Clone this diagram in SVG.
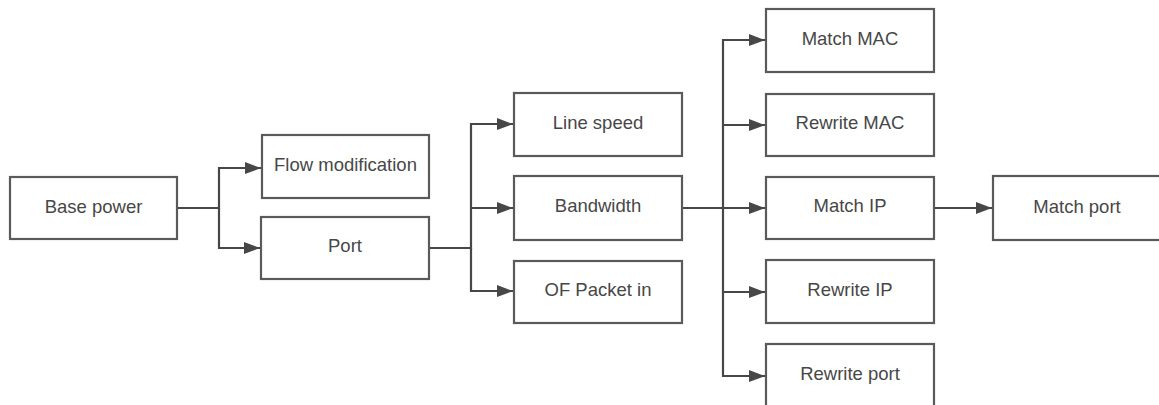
<svg xmlns="http://www.w3.org/2000/svg" width="1159" height="405" viewBox="0 0 1159 405">
<style>
.box{fill:#ffffff;stroke:#5a5a5a;stroke-width:2.2}
.lbl{font-family:"Liberation Sans",Arial,sans-serif;font-size:18.5px;fill:#474747;text-anchor:middle}
.edge{fill:none;stroke:#474747;stroke-width:2.2}
</style>
<defs>
<marker id="arr" markerUnits="userSpaceOnUse" markerWidth="17" markerHeight="14" refX="16" refY="7" orient="auto">
<path d="M0,1 L16,7 L0,13 Z" fill="#474747"/>
</marker>
</defs>
<rect width="1159" height="405" fill="#ffffff"/>
<g id="connectors">
<path class="edge" d="M177,208 H219 V168 H261" marker-end="url(#arr)"/>
<path class="edge" d="M219,208 V248 H260" marker-end="url(#arr)"/>
<path class="edge" d="M429,248 H471 V124 H513" marker-end="url(#arr)"/>
<path class="edge" d="M471,208 H513" marker-end="url(#arr)"/>
<path class="edge" d="M471,248 V291 H513" marker-end="url(#arr)"/>
<path class="edge" d="M682,208 H723 V40 H765" marker-end="url(#arr)"/>
<path class="edge" d="M723,125 H765" marker-end="url(#arr)"/>
<path class="edge" d="M723,208 H765" marker-end="url(#arr)"/>
<path class="edge" d="M723,208 V292 H765" marker-end="url(#arr)"/>
<path class="edge" d="M723,292 V376 H765" marker-end="url(#arr)"/>
<path class="edge" d="M934,208 H992" marker-end="url(#arr)"/>
</g>
<g id="base-power"><rect class="box" x="10" y="177" width="167" height="62"/><text class="lbl" x="93.5" y="212.5">Base power</text></g>
<g id="flow-modification"><rect class="box" x="262" y="135" width="167" height="63"/><text class="lbl" x="345.5" y="170.7">Flow modification</text></g>
<g id="port"><rect class="box" x="261" y="217" width="168" height="62"/><text class="lbl" x="345" y="252.3">Port</text></g>
<g id="line-speed"><rect class="box" x="514" y="93" width="168" height="63"/><text class="lbl" x="598" y="128.7">Line speed</text></g>
<g id="bandwidth"><rect class="box" x="514" y="176" width="168" height="64"/><text class="lbl" x="598" y="212.3">Bandwidth</text></g>
<g id="of-packet-in"><rect class="box" x="514" y="261" width="168" height="62"/><text class="lbl" x="598" y="296.3">OF Packet in</text></g>
<g id="match-mac"><rect class="box" x="766" y="9" width="168" height="63"/><text class="lbl" x="850" y="44.7">Match MAC</text></g>
<g id="rewrite-mac"><rect class="box" x="766" y="94" width="168" height="62"/><text class="lbl" x="850" y="129.3">Rewrite MAC</text></g>
<g id="match-ip"><rect class="box" x="766" y="177" width="168" height="62"/><text class="lbl" x="850" y="212.3">Match IP</text></g>
<g id="rewrite-ip"><rect class="box" x="766" y="260" width="168" height="63"/><text class="lbl" x="850" y="296">Rewrite IP</text></g>
<g id="rewrite-port"><rect class="box" x="766" y="344" width="168" height="63"/><text class="lbl" x="850" y="380">Rewrite port</text></g>
<g id="match-port"><rect class="box" x="993" y="176" width="168" height="64"/><text class="lbl" x="1077" y="212.5">Match port</text></g>
</svg>
